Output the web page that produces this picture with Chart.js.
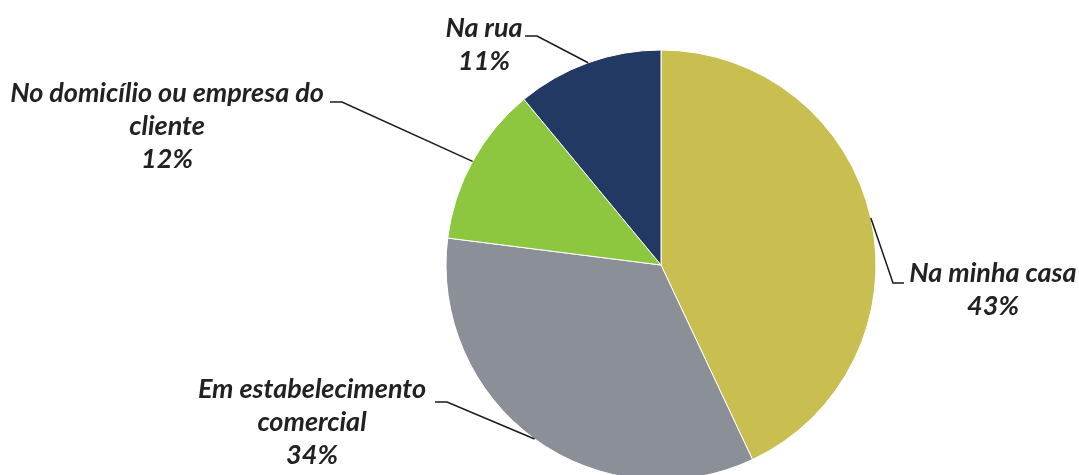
<!DOCTYPE html>
<html>
<head>
<meta charset="utf-8">
<script src="https://cdn.jsdelivr.net/npm/chart.js@4.4.1/dist/chart.umd.min.js"></script>
<style>
html,body{margin:0;padding:0;background:#fff;}
#wrap{width:1079px;height:475px;position:relative;}
</style>
</head>
<body>
<div id="wrap"><canvas id="c" width="1079" height="475"></canvas></div>
<script>
const categories = ["Na minha casa", "Em estabelecimento comercial", "No domicílio ou empresa do cliente", "Na rua"];
const values = [43, 34, 12, 11];
const labelLines = [["Na minha casa", "43%"], ["Em estabelecimento", "comercial", "34%"], ["No domicílio ou empresa do", "cliente", "12%"], ["Na rua", "11%"]];
const colors = ["#C9BF50", "#8B9098", "#8DC63F", "#223A63"];

// label layout (positions/styles only)
const labelLayout = [
  {elbow: [893, 283], end: [904, 283], tx: 993, ty: 273},
  {elbow: [447, 402], end: [435, 402], tx: 312, ty: 389},
  {elbow: [342, 102], end: [330, 102], tx: 167, ty: 93},
  {elbow: [537, 36], end: [525, 36], tx: 484, ty: 28}
];
const lineHeight = 33;

const labelPlugin = {
  id: 'leaderLabels',
  afterDatasetsDraw(chart) {
    const ctx = chart.ctx;
    const meta = chart.getDatasetMeta(0);
    ctx.save();
    meta.data.forEach((arc, i) => {
      const p = arc.getProps(['x','y','startAngle','endAngle','outerRadius'], true);
      const mid = (p.startAngle + p.endAngle) / 2;
      const ax = p.x + Math.cos(mid) * p.outerRadius;
      const ay = p.y + Math.sin(mid) * p.outerRadius;
      const L = labelLayout[i];
      ctx.strokeStyle = '#1a1a1a';
      ctx.lineWidth = 1.5;
      ctx.beginPath();
      ctx.moveTo(ax, ay);
      ctx.lineTo(L.elbow[0], L.elbow[1]);
      ctx.lineTo(L.end[0], L.end[1]);
      ctx.stroke();
      ctx.fillStyle = '#222222';
      ctx.font = 'italic bold 27px Lato, "Open Sans", sans-serif';
      ctx.textAlign = 'center';
      ctx.textBaseline = 'middle';
      labelLines[i].forEach((t, k) => {
        ctx.fillText(t, L.tx, L.ty + k * lineHeight);
      });
    });
    ctx.restore();
  }
};

new Chart(document.getElementById('c'), {
  type: 'pie',
  data: {
    labels: categories,
    datasets: [{
      data: values,
      backgroundColor: colors,
      borderColor: '#ffffff',
      borderWidth: 1,
      radius: 215,
      clip: false
    }]
  },
  options: {
    responsive: false,
    animation: false,
    layout: {padding: {left: 243, right: 0, top: 55, bottom: 0}},
    plugins: {legend: {display: false}, tooltip: {enabled: false}}
  },
  plugins: [labelPlugin]
});
</script>
</body>
</html>
